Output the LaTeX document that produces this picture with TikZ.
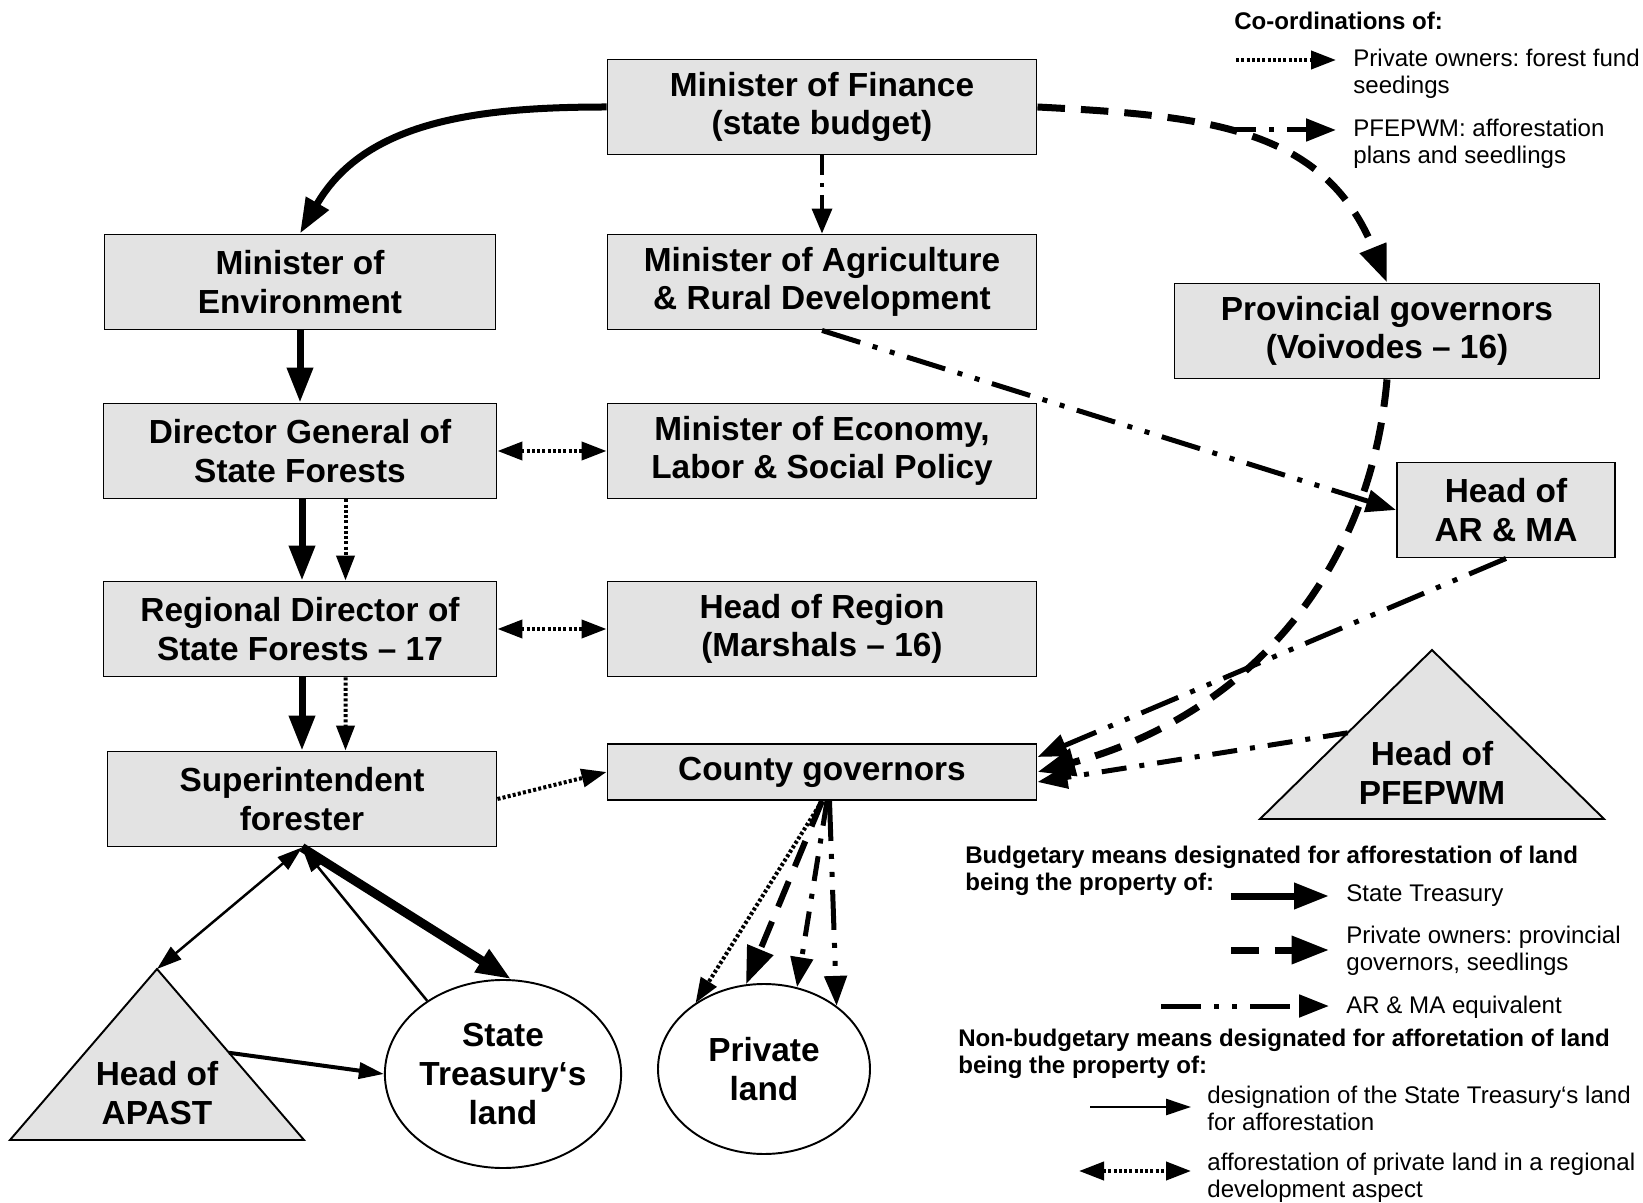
\documentclass[tikz,border=0pt]{standalone}
\usepackage{fontspec}
\setmainfont{Liberation Sans}
\usetikzlibrary{arrows.meta,shapes.geometric,calc}
\frenchspacing
\newcommand{\boxfont}{\fontsize{19}{22}\selectfont\bfseries}
\newcommand{\keyfont}{\fontsize{13.7}{15.4}\selectfont}
\tikzstyle{office}=[draw,line width=1.1pt,fill=gray!22,minimum height=19mm,inner sep=0pt,align=center,font=\boxfont]
\tikzstyle{land}=[ellipse,draw,line width=1.1pt,fill=white,inner sep=0pt,align=center,font=\boxfont]
\tikzstyle{chief}=[draw,line width=1.1pt,fill=gray!22]
\tikzstyle{chieftext}=[inner sep=0pt,align=center,font=\boxfont]
\tikzstyle{keytext}=[anchor=west,align=left,inner sep=0pt,font=\keyfont]
\tikzstyle{keyhead}=[anchor=west,align=left,inner sep=0pt,font=\keyfont\bfseries]
\tikzstyle{budget}=[line width=1.4mm,-{Triangle[length=7mm,width=5mm]}]
\tikzstyle{provincial}=[line width=1.4mm,dash pattern=on 5.5mm off 3.2mm,-{Triangle[length=7.5mm,width=5.4mm]}]
\tikzstyle{armaeq}=[line width=1mm,dash pattern=on 8mm off 2.6mm on 1mm off 2.6mm on 1mm off 2.6mm,-{Triangle[length=6mm,width=4.4mm]}]
\tikzstyle{pfepwm}=[line width=1mm,dash pattern=on 5mm off 2.6mm on 1mm off 2.6mm,-{Triangle[length=6mm,width=4.4mm]}]
\tikzstyle{minline}=[line width=0.7mm,dash pattern=on 4mm off 1.6mm on 0.7mm off 1.6mm,-{Triangle[length=5mm,width=4mm]}]
\tikzstyle{fund}=[line width=0.8mm,dash pattern=on 0.6mm off 0.45mm,-{Triangle[length=5mm,width=3.6mm]}]
\tikzstyle{regional}=[fund,{Triangle[length=5mm,width=3.6mm]}-{Triangle[length=5mm,width=3.6mm]}]
\tikzstyle{designation}=[line width=0.5mm,-{Triangle[length=5mm,width=3.2mm]}]
\tikzstyle{twoway}=[designation,{Triangle[length=5mm,width=3.2mm]}-{Triangle[length=5mm,width=3.2mm]}]

\begin{document}
\begin{tikzpicture}[x=0.2mm,y=-0.2mm]
  \useasboundingbox (0,0) rectangle (1643,1203);

  \node[office,minimum width=85.8mm] (fin) at (822,107) {Minister of Finance\\(state budget)};
  \node[office,minimum width=78.2mm] (env) at (300,282) {Minister of\\Environment};
  \node[office,minimum width=85.8mm] (agr) at (822,282) {Minister of Agriculture\\\& Rural Development};
  \node[office,minimum width=85mm] (prov) at (1387,331) {Provincial governors\\(Voivodes – 16)};
  \node[office,minimum width=78.6mm] (dg) at (300,451) {Director General of\\State Forests};
  \node[office,minimum width=85.8mm] (eco) at (822,451) {Minister of Economy,\\Labor \& Social Policy};
  \node[office,minimum width=43.6mm] (arma) at (1506,510) {Head of\\AR \& MA};
  \node[office,minimum width=78.6mm] (reg) at (300,629) {Regional Director of\\State Forests – 17};
  \node[office,minimum width=85.8mm] (hreg) at (822,629) {Head of Region\\(Marshals – 16)};
  \node[office,minimum width=77.8mm] (sup) at (302,799) {Superintendent\\forester};
  \node[office,minimum width=85.8mm,minimum height=11.2mm] (cg) at (822,772) {County governors};

  \coordinate (apT) at (157,969);
  \coordinate (apBL) at (10,1140);
  \coordinate (apBR) at (304,1140);
  \coordinate (apR) at ($(apT)!0.49!(apBR)$);
  \draw[chief] (apT) -- (apBR) -- (apBL) -- cycle;
  \node[chieftext] (apast) at (157,1093) {Head of\\APAST};
  \coordinate (pfT) at (1432,650);
  \coordinate (pfBL) at (1260,819);
  \coordinate (pfBR) at (1604,819);
  \coordinate (pfL) at ($(pfT)!0.49!(pfBL)$);
  \draw[chief] (pfT) -- (pfBR) -- (pfBL) -- cycle;
  \node[chieftext] (pfe) at (1432,773) {Head of\\PFEPWM};

  \node[land,minimum width=42.8mm,minimum height=37.6mm] (st) at (503,1074) {State\\Treasury‘s\\land};
  \node[land,minimum width=42.4mm,minimum height=34mm] (pl) at (764,1069) {Private\\land};

  \draw[budget] (fin.west) to[out=180,in=60] (env.north);
  \draw[minline] (fin.south) -- (agr.north);
  \draw[provincial] (fin.east) to[out=-3,in=112,looseness=1.1] (prov.north);
  \draw[armaeq] (agr.south) -- (arma.west);
  \draw[provincial] (prov.south) to[out=-95,in=15] (cg.east);
  \draw[armaeq] (arma.south) -- ([yshift=3mm]cg.east);
  \draw[pfepwm] (pfL) -- ([yshift=-2mm]cg.east);
  \draw[budget] (env.south) -- (dg.north);
  \draw[regional] (dg.east) -- (eco.west);
  \draw[budget] ([xshift=0.4mm]dg.south) -- ([xshift=0.4mm]reg.north);
  \draw[fund] ([xshift=9.1mm]dg.south) -- ([xshift=9.1mm]reg.north);
  \draw[regional] (reg.east) -- (hreg.west);
  \draw[budget] ([xshift=0.4mm]reg.south) -- (sup.north);
  \draw[fund] ([xshift=9.1mm]reg.south) -- ([xshift=8.7mm]sup.north);
  \draw[fund] (sup.east) -- (cg.west);
  \draw[twoway] (sup.south) -- (apT);
  \draw[designation] (st.136) -- (sup.south);
  \draw[budget,line width=1.8mm] (sup.south) -- (st.85);
  \draw[designation,line width=0.8mm] (apR) -- (st.west);
  \draw[fund] (cg.south) -- (pl.136);
  \draw[provincial,line width=1.2mm] (cg.south) -- (pl.102);
  \draw[pfepwm] ([xshift=1mm]cg.south) -- (pl.68);
  \draw[armaeq] ([xshift=1.5mm]cg.south) -- (pl.41);

  \node[keyhead] (coord) at (1234,21) {Co-ordinations of:};
  \coordinate (k1a) at (1236,60);
  \coordinate (k1b) at (1336,60);
  \draw[fund] (k1a) -- (k1b);
  \node[keytext] (k1) at (1353,74) {Private owners: forest fund\\seedings};
  \coordinate (k2a) at (1231,130);
  \coordinate (k2b) at (1336,130);
  \draw[pfepwm] (k2a) -- (k2b);
  \node[keytext] (k2) at (1353,144) {PFEPWM: afforestation\\plans and seedlings};

  \node[keyhead] (budg) at (965,871) {Budgetary means designated for afforestation of land\\being the property of:};
  \coordinate (k3a) at (1231,896);
  \coordinate (k3b) at (1329,896);
  \draw[budget] (k3a) -- (k3b);
  \node[keytext] (k3) at (1346,896) {State Treasury};
  \coordinate (k4a) at (1231,950);
  \coordinate (k4b) at (1329,950);
  \draw[provincial] (k4a) -- (k4b);
  \node[keytext] (k4) at (1346,951) {Private owners: provincial\\governors, seedlings};
  \coordinate (k5a) at (1161,1006);
  \coordinate (k5b) at (1329,1006);
  \draw[armaeq] (k5a) -- (k5b);
  \node[keytext] (k5) at (1346,1007) {AR \& MA equivalent};

  \node[keyhead] (nonbudg) at (958,1054) {Non-budgetary means designated for afforetation of land\\being the property of:};
  \coordinate (k6a) at (1090,1107);
  \coordinate (k6b) at (1191,1107);
  \draw[designation] (k6a) -- (k6b);
  \node[keytext] (k6) at (1207,1108) {designation of the State Treasury‘s land\\for afforestation};
  \coordinate (k7a) at (1079,1171);
  \coordinate (k7b) at (1191,1171);
  \draw[regional] (k7a) -- (k7b);
  \node[keytext] (k7) at (1207,1178) {afforestation of private land in a regional\\development aspect};
\end{tikzpicture}
\end{document}
